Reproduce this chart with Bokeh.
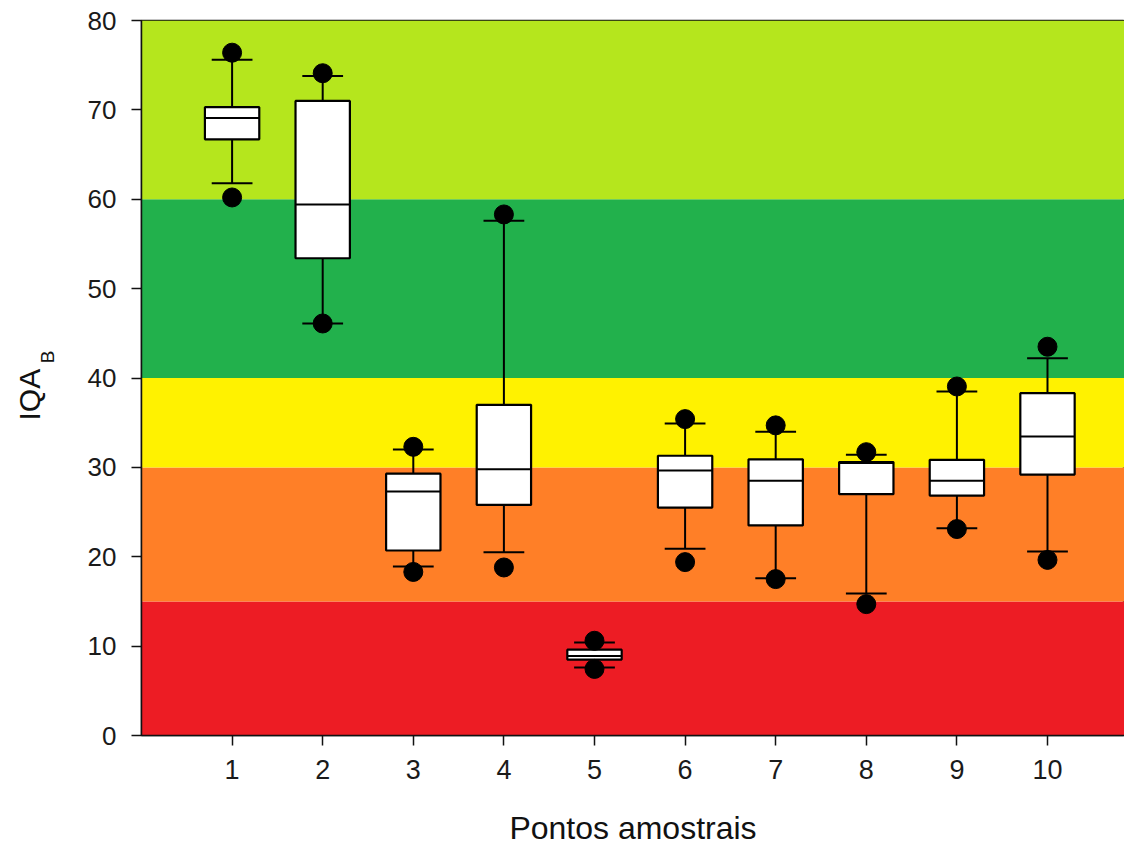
import math
from bokeh.plotting import figure
from bokeh.models import BoxAnnotation, FixedTicker, Range1d, LinearAxis
from bokeh.embed import file_html
from bokeh.resources import INLINE

# ---- data ----
cats = [1, 2, 3, 4, 5, 6, 7, 8, 9, 10]
tick_labels = ["1", "2", "3", "4", "5", "6", "7", "8", "9", "10"]
q1 = [66.7, 53.4, 20.7, 25.8, 8.5, 25.5, 23.5, 27.0, 26.85, 29.2]
median = [69.1, 59.4, 27.3, 29.8, 8.9, 29.65, 28.5, 30.5, 28.5, 33.45]
q3 = [70.3, 71.0, 29.3, 37.0, 9.6, 31.3, 30.9, 30.6, 30.85, 38.3]
whisk_lo = [61.8, 46.1, 18.9, 20.5, 7.6, 20.9, 17.6, 15.9, 23.2, 20.6]
whisk_hi = [75.6, 73.8, 32.0, 57.6, 10.4, 34.9, 34.0, 31.4, 38.5, 42.2]
out_lo = [60.2, 46.1, 18.3, 18.8, 7.45, 19.4, 17.5, 14.7, 23.1, 19.65]
out_hi = [76.4, 74.1, 32.3, 58.3, 10.6, 35.4, 34.7, 31.7, 39.05, 43.5]

band_lo = [0, 15, 30, 40, 60]
band_hi = [15, 30, 40, 60, 80]
band_colors = ["#ED1C24", "#FF7F27", "#FFF200", "#22B14C", "#B5E61D"]

BOX_W = 0.6
CAP_W = 0.45
NB = "\u00a0"

p = figure(width=1124, height=850, output_backend="svg", toolbar_location=None,
           x_range=Range1d(0, 10.85), y_range=Range1d(0, 80),
           min_border_left=141, min_border_right=0, min_border_top=20,
           min_border_bottom=115)
p.background_fill_color = "white"
p.border_fill_color = "white"
p.grid.visible = False
p.outline_line_color = "#111111"
p.outline_line_width = 1.5

for lo, hi, c in zip(band_lo, band_hi, band_colors):
    p.add_layout(BoxAnnotation(bottom=lo, top=hi, fill_color=c, fill_alpha=1.0,
                               line_alpha=0, level="underlay"))

# whiskers
p.segment(x0=cats, y0=q3, x1=cats, y1=whisk_hi, line_color="black", line_width=2)
p.segment(x0=cats, y0=q1, x1=cats, y1=whisk_lo, line_color="black", line_width=2)
# caps
cx0 = [c - CAP_W / 2 for c in cats]
cx1 = [c + CAP_W / 2 for c in cats]
p.segment(x0=cx0, y0=whisk_hi, x1=cx1, y1=whisk_hi, line_color="black", line_width=2)
p.segment(x0=cx0, y0=whisk_lo, x1=cx1, y1=whisk_lo, line_color="black", line_width=2)
# boxes
p.vbar(x=cats, bottom=q1, top=q3, width=BOX_W, fill_color="white",
       line_color="black", line_width=2.2)
# medians
mx0 = [c - BOX_W / 2 for c in cats]
mx1 = [c + BOX_W / 2 for c in cats]
p.segment(x0=mx0, y0=median, x1=mx1, y1=median, line_color="black", line_width=2)
# extreme points
p.scatter(x=cats, y=out_hi, size=19, fill_color="black", line_color="black")
p.scatter(x=cats, y=out_lo, size=19, fill_color="black", line_color="black")

# axes
yax = p.yaxis[0]
yax.ticker = FixedTicker(ticks=[0, 10, 20, 30, 40, 50, 60, 70, 80])
yax.minor_tick_line_color = None
yax.major_tick_out = 10
yax.major_tick_in = 0
yax.major_tick_line_width = 1.5
yax.axis_line_width = 1.5
yax.axis_line_color = "#111111"
yax.major_tick_line_color = "#111111"
yax.major_label_text_font = "Liberation Sans"
yax.major_label_text_font_size = "26px"
yax.major_label_text_color = "#1a1a1a"
yax.major_label_standoff = 15

xax = p.xaxis[0]
xax.ticker = FixedTicker(ticks=cats)
xax.major_label_overrides = {c: t for c, t in zip(cats, tick_labels)}
xax.minor_tick_line_color = None
xax.major_tick_out = 10
xax.major_tick_in = 0
xax.major_tick_line_width = 1.5
xax.axis_line_width = 1.5
xax.axis_line_color = "#111111"
xax.major_tick_line_color = "#111111"
xax.major_label_text_font = "'Liberation Sans Narrow', 'Liberation Sans'"
xax.major_label_text_font_size = "27px"
xax.major_label_text_color = "#1a1a1a"
xax.major_label_standoff = 14
xax.axis_label = "Pontos amostrais"
xax.axis_label_text_font = "Liberation Sans"
xax.axis_label_text_font_size = "32px"
xax.axis_label_text_font_style = "normal"
xax.axis_label_text_color = "#111111"
xax.axis_label_standoff = 28


def label_axis(text, size, standoff):
    ax = LinearAxis(ticker=FixedTicker(ticks=[]), axis_label=text,
                    axis_line_color=None, major_tick_line_color=None,
                    minor_tick_line_color=None,
                    axis_label_text_font="Liberation Sans",
                    axis_label_text_font_size=size,
                    axis_label_text_font_style="normal",
                    axis_label_text_color="#111111",
                    axis_label_standoff=standoff)
    p.add_layout(ax, "left")
    return ax


# y axis title: IQA with subscript B (B nearer the plot, IQA further out)
label_axis(NB * 8 + "B", "19px", 27)
label_axis("IQA" + NB * 4, "30px", -12)

open("out.html", "w").write(file_html(p, INLINE))
